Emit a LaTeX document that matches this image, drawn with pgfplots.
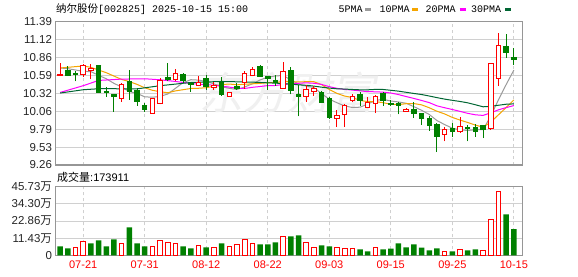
\documentclass[border=0pt]{standalone}
\usepackage{fontspec}
\usepackage{pgfplots}
\usepackage{pgfplotstable}
\pgfplotsset{compat=1.18}
\setmainfont{Liberation Sans}
\newfontfamily\cjk{Noto Sans CJK SC}
\newfontfamily\mono{Liberation Mono}
\definecolor{upred}{RGB}{255,0,0}
\definecolor{dngreen}{RGB}{0,128,0}
\definecolor{maA}{RGB}{155,155,155}
\definecolor{maB}{RGB}{245,165,0}
\definecolor{maC}{RGB}{255,0,255}
\definecolor{maD}{RGB}{0,102,51}
\definecolor{gridc}{RGB}{208,208,208}
\definecolor{framec}{RGB}{150,150,150}

% candles: index, open, high, low, close
\pgfplotstableread{
i O H L C
0 10.59 10.78 10.59 10.61
3 10.61 10.76 10.57 10.73
4 10.66 10.76 10.53 10.69
8 10.24 10.48 10.20 10.46
12 10.03 10.25 10.03 10.24
13 10.17 10.55 10.16 10.52
15 10.53 10.68 10.50 10.62
18 10.44 10.58 10.43 10.49
20 10.41 10.49 10.38 10.44
22 10.28 10.35 10.27 10.33
24 10.49 10.65 10.39 10.62
25 10.59 10.72 10.58 10.68
29 10.40 10.79 10.39 10.65
32 10.28 10.45 10.20 10.38
33 10.35 10.44 10.29 10.39
36 9.95 10.08 9.83 10.00
37 10.01 10.17 9.83 10.14
38 10.22 10.32 10.19 10.28
40 10.12 10.27 10.10 10.19
41 10.17 10.30 10.03 10.27
45 10.06 10.10 10.05 10.09
50 9.72 9.83 9.61 9.79
52 9.75 9.97 9.74 9.83
56 9.80 10.77 9.78 10.77
57 10.54 11.22 10.43 11.03
}\upcandles

\pgfplotstableread{
i O H L C
1 10.67 10.73 10.58 10.59
2 10.62 10.66 10.50 10.61
5 10.73 10.74 10.33 10.34
6 10.35 10.42 10.27 10.33
7 10.30 10.32 10.05 10.27
9 10.50 10.67 10.23 10.35
10 10.36 10.41 10.14 10.20
11 10.15 10.18 10.05 10.08
14 10.56 10.78 10.50 10.53
16 10.61 10.62 10.47 10.51
17 10.47 10.49 10.35 10.45
19 10.55 10.60 10.38 10.43
21 10.48 10.56 10.29 10.30
23 10.42 10.48 10.38 10.40
26 10.72 10.74 10.57 10.58
27 10.57 10.58 10.38 10.54
28 10.52 10.60 10.44 10.49
30 10.67 10.72 10.31 10.36
31 10.30 10.45 9.98 10.27
34 10.34 10.36 10.18 10.19
35 10.25 10.27 9.94 9.96
39 10.31 10.35 10.13 10.21
42 10.32 10.34 10.14 10.22
43 10.18 10.23 10.13 10.16
44 10.17 10.20 10.01 10.14
46 10.09 10.20 9.96 10.02
47 10.02 10.03 9.86 9.95
48 9.95 9.98 9.77 9.85
49 9.86 9.88 9.45 9.69
51 9.80 9.88 9.68 9.75
53 9.81 9.86 9.61 9.80
54 9.81 9.87 9.68 9.75
55 9.85 9.86 9.66 9.79
58 11.02 11.21 10.85 10.93
59 10.85 10.99 10.75 10.82
}\downcandles

\pgfplotstableread{
i V
2 53300
3 91000
8 77800
12 57800
13 97800
14 84400
15 77800
18 64400
20 53300
22 57800
23 71100
24 104400
25 77800
29 124400
32 84400
33 51100
36 53300
37 46700
38 46700
41 53300
50 24400
52 37800
55 33300
56 240000
57 426700
}\volup

\pgfplotstableread{
i V
0 60000
1 46700
4 80000
5 100000
6 60000
7 106700
9 186700
10 80000
11 60000
16 60000
17 46700
19 53300
21 80000
26 73300
27 73300
28 86700
30 126700
31 133300
34 66700
35 60000
39 40000
40 26700
42 40000
43 44400
44 80000
45 53300
46 73300
47 51100
48 33300
49 46700
51 26700
53 33300
54 40000
58 273300
59 173911
}\voldown

\pgfplotsset{
  kbase/.style={
    scale only axis, width=466.8pt,
    xmin=-0.6, xmax=60.1,
    axis line style={draw=framec, line width=1.2pt},
    major tick length=0pt,
    xtick={3,11,19,27,35,43,51,59},
    xmajorgrids, ymajorgrids,
    x grid style={draw=gridc, line width=0.8pt, dash pattern=on 3pt off 3pt},
    y grid style={draw=gridc, line width=0.8pt},
    yticklabel style={font=\fontsize{11.5}{12}\selectfont, text=black!85},
    clip=true,
  },
  wick/.style={draw=none, mark=none, forget plot,
    error bars/.cd, y dir=plus, y explicit, error mark=none,
    error bar style={draw=#1, line width=1pt}},
  body/.style 2 args={draw=none, mark=none, forget plot,
    error bars/.cd, y dir=plus, y explicit, error mark=none,
    error bar style={draw=#1, line width=#2, line cap=butt}},
  edge/.style={only marks, mark=-, mark size=2.75pt, forget plot,
    mark options={draw=#1, line width=1pt}},
}

\begin{document}
\begin{tikzpicture}[x=1pt,y=1pt]
\fill[white] (0,0) rectangle (578,276);

% title and legend
\node[anchor=west, inner sep=0pt] at (56,267)
  {{\cjk\fontsize{10.5}{12}\selectfont 纳尔股份}{\mono\fontsize{10}{12}\selectfont[002825] 2025-10-15 15:00}};
\node[anchor=west, inner sep=0pt] at (338.5,267) {\mono\fontsize{10}{12}\selectfont 5PMA};
\draw[maA, line width=3pt] (365,266.5) -- (371,266.5);
\node[anchor=west, inner sep=0pt] at (379.5,267) {\mono\fontsize{10}{12}\selectfont 10PMA};
\draw[maB, line width=3pt] (412,266.5) -- (418,266.5);
\node[anchor=west, inner sep=0pt] at (425.5,267) {\mono\fontsize{10}{12}\selectfont 20PMA};
\draw[maC, line width=3pt] (459.5,266.5) -- (465.5,266.5);
\node[anchor=west, inner sep=0pt] at (471,267) {\mono\fontsize{10}{12}\selectfont 30PMA};
\draw[maD, line width=3pt] (505,266.5) -- (511,266.5);
\node[anchor=west, inner sep=0pt] at (57,98.3)
  {{\cjk\fontsize{11}{12}\selectfont 成交量}{\fontsize{11}{12}\selectfont:173911}};

% ---------------- price panel ----------------
\begin{axis}[kbase, at={(55.5pt,111pt)}, anchor=south west, height=143.5pt,
  ymin=9.26, ymax=11.39,
  ytick={9.26,9.52625,9.7925,10.05875,10.325,10.59125,10.8575,11.12375,11.39},
  yticklabels={9.26,9.53,9.79,10.06,10.32,10.59,10.86,11.12,11.39},
  xticklabels={}]

\node[text=black!6, xslant=0.2, transform shape] at (axis cs:30,10.33)
  {\cjk\fontsize{44}{44}\selectfont 东方财富};

% moving averages
\addplot[maA, line width=1pt, mark=none] coordinates {
(0,10.70)(1,10.69)(2,10.67)(3,10.65)(4,10.646)(5,10.592)(6,10.54)(7,10.472)(8,10.418)(9,10.35)
(10,10.322)(11,10.272)(12,10.266)(13,10.278)(14,10.314)(15,10.398)(16,10.484)(17,10.526)(18,10.52)(19,10.50)
(20,10.464)(21,10.422)(22,10.398)(23,10.38)(24,10.418)(25,10.466)(26,10.522)(27,10.564)(28,10.582)(29,10.588)
(30,10.524)(31,10.462)(32,10.43)(33,10.41)(34,10.318)(35,10.238)(36,10.184)(37,10.136)(38,10.114)(39,10.118)
(40,10.164)(41,10.218)(42,10.234)(43,10.21)(44,10.196)(45,10.176)(46,10.126)(47,10.072)(48,10.01)(49,9.92)
(50,9.86)(51,9.806)(52,9.782)(53,9.772)(54,9.784)(55,9.784)(56,9.988)(57,10.228)(58,10.454)(59,10.668)};
\addplot[maB, line width=1pt, mark=none] coordinates {
(0,10.70)(1,10.71)(2,10.72)(3,10.73)(4,10.71)(5,10.67)(6,10.63)(7,10.58)(8,10.53)(9,10.498)
(10,10.457)(11,10.406)(12,10.369)(13,10.348)(14,10.332)(15,10.36)(16,10.378)(17,10.396)(18,10.399)(19,10.407)
(20,10.431)(21,10.453)(22,10.462)(23,10.45)(24,10.459)(25,10.465)(26,10.472)(27,10.481)(28,10.481)(29,10.503)
(30,10.495)(31,10.492)(32,10.497)(33,10.496)(34,10.453)(35,10.381)(36,10.323)(37,10.283)(38,10.262)(39,10.218)
(40,10.201)(41,10.201)(42,10.185)(43,10.162)(44,10.157)(45,10.17)(46,10.172)(47,10.153)(48,10.11)(49,10.058)
(50,10.018)(51,9.966)(52,9.927)(53,9.891)(54,9.852)(55,9.822)(56,9.897)(57,10.005)(58,10.113)(59,10.226)};
\addplot[maC, line width=1pt, mark=none] coordinates {
(0,10.337)(3,10.437)(5,10.515)(8,10.535)(11,10.54)(13,10.525)(15,10.50)(17,10.47)(18,10.46)(19,10.453)
(20,10.444)(21,10.43)(22,10.416)(23,10.399)(24,10.396)(25,10.413)(26,10.425)(27,10.439)(28,10.44)(29,10.455)
(30,10.463)(31,10.473)(32,10.48)(33,10.473)(34,10.456)(35,10.423)(36,10.398)(37,10.382)(38,10.372)(39,10.361)
(40,10.348)(41,10.347)(42,10.341)(43,10.329)(44,10.305)(45,10.276)(46,10.248)(47,10.218)(48,10.186)(49,10.138)
(50,10.11)(51,10.084)(52,10.056)(53,10.027)(54,10.005)(55,9.996)(56,10.035)(57,10.079)(58,10.112)(59,10.142)};
\addplot[maD, line width=1pt, mark=none] coordinates {
(0,10.328)(3,10.377)(5,10.392)(7,10.392)(10,10.39)(13,10.437)(17,10.485)(21,10.50)(25,10.49)(28,10.475)
(29,10.469)(30,10.461)(31,10.45)(32,10.443)(33,10.431)(34,10.415)(35,10.402)(36,10.391)(37,10.387)(38,10.381)
(39,10.376)(40,10.376)(41,10.382)(42,10.381)(43,10.369)(44,10.356)(45,10.339)(46,10.322)(47,10.306)(48,10.284)
(49,10.26)(50,10.238)(51,10.22)(52,10.203)(53,10.183)(54,10.154)(55,10.124)(56,10.131)(57,10.147)(58,10.162)(59,10.167)};

% falling candles (filled green)
\addplot[wick=dngreen] table[x=i, y=L, y error plus expr=\thisrow{H}-\thisrow{L}] {\downcandles};
\addplot[body={dngreen}{5.5pt}] table[x=i, y=C, y error plus expr=\thisrow{O}-\thisrow{C}] {\downcandles};
\addplot[edge=dngreen] table[x=i, y=O] {\downcandles};
\addplot[edge=dngreen] table[x=i, y=C] {\downcandles};

% rising candles (hollow red)
\addplot[wick=upred] table[x=i, y=L, y error plus expr=\thisrow{H}-\thisrow{L}] {\upcandles};
\addplot[body={upred}{5.5pt}] table[x=i, y=O, y error plus expr=\thisrow{C}-\thisrow{O}] {\upcandles};
\addplot[body={white}{3.5pt}] table[x=i, y=O, y error plus expr=\thisrow{C}-\thisrow{O}] {\upcandles};
\addplot[edge=upred] table[x=i, y=O] {\upcandles};
\addplot[edge=upred] table[x=i, y=C] {\upcandles};
\end{axis}

% ---------------- volume panel ----------------
\begin{axis}[kbase, at={(55.5pt,20.7pt)}, anchor=south west, height=68.6pt,
  ymin=0, ymax=457300, scaled y ticks=false,
  ytick={0,114325,228650,342975,457300},
  yticklabels={0,{11.43{\cjk 万}},{22.86{\cjk 万}},{34.30{\cjk 万}},{45.73{\cjk 万}}},
  xticklabels={07-21,07-31,08-12,08-22,09-03,09-15,09-25,10-15},
  xticklabel style={text=upred, font=\fontsize{11}{12}\selectfont, yshift=-1.5pt}]
\addplot[ybar, bar width=5.5pt, bar shift=0pt, fill=dngreen, draw=none] table[x=i, y=V] {\voldown};
\addplot[ybar, bar width=4.6pt, bar shift=0pt, fill=white, draw=upred, line width=0.9pt] table[x=i, y=V] {\volup};
\end{axis}
\end{tikzpicture}
\end{document}
